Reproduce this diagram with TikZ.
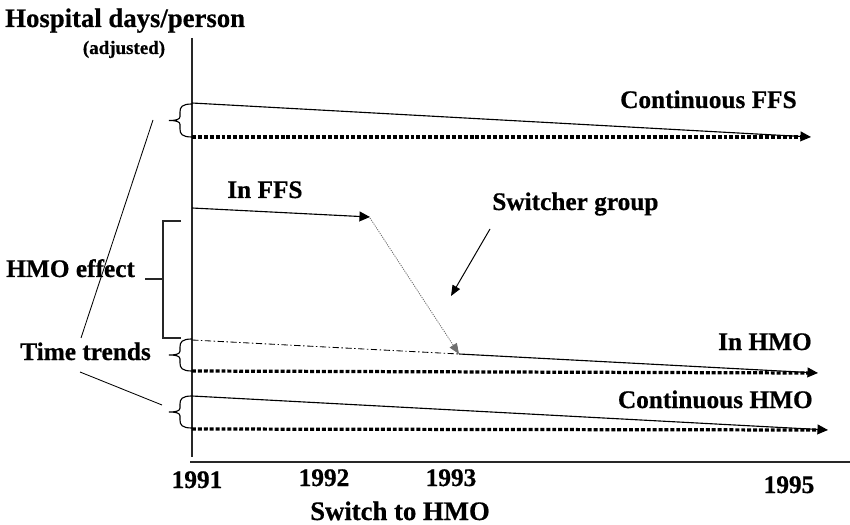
\documentclass[tikz,border=0pt]{standalone}
\usepackage{fontspec}
\setmainfont{Liberation Serif}[BoldFeatures={FakeBold=0.6}]
\usepackage{xcolor}
\definecolor{axisgray}{RGB}{40,40,40}
\definecolor{switchgray}{RGB}{110,110,110}
\usetikzlibrary{arrows.meta}

\tikzset{
  lbl/.style={font=\fontsize{18}{20}\selectfont\bfseries, inner sep=0pt},
  axisline/.style={line width=1pt, draw=axisgray},
  trendline/.style={line width=0.8pt, -{Triangle[length=7.5pt,width=7pt]}},
  dotline/.style={line width=2.3pt, dash pattern=on 2.8pt off 1.4pt},
  leader/.style={line width=0.6pt},
  bracestroke/.style={line width=0.8pt},
}

% curly brace on the left of the y axis, from y=#1 down to y=#2
\newcommand{\sidebrace}[2]{%
  \draw[bracestroke] (192,#1) .. controls (182,#1) and (180,{#1+3}) .. (180,{#1+8})
    -- (180,{(#1+#2)/2-4}) .. controls (180,{(#1+#2)/2-1}) and (176,{(#1+#2)/2}) .. (169,{(#1+#2)/2})
    .. controls (176,{(#1+#2)/2}) and (180,{(#1+#2)/2+1}) .. (180,{(#1+#2)/2+4})
    -- (180,{#2-8}) .. controls (180,{#2-3}) and (182,#2) .. (192,#2);}

\begin{document}
\begin{tikzpicture}[x=0.025cm, y=-0.025cm]
  \useasboundingbox (0,0) rectangle (850,525);

  % Axes
  \draw[axisline] (192,38) -- (192,457);
  \draw[axisline] (190,462) -- (850,462);
  \node[lbl, font=\fontsize{19}{21}\selectfont\bfseries, anchor=base west] (title) at (5,27) {Hospital days/person};
  \node[lbl, font=\fontsize{13.5}{15}\selectfont\bfseries, anchor=base] (adj) at (124,54) {(adjusted)};

  % Continuous FFS
  \draw[dotline] (192,137) -- (801,137);
  \draw[trendline] (192,103) -- (811,137);
  \node[lbl, anchor=base east] (cffs) at (797,108) {Continuous FFS};
  \sidebrace{104}{137}

  % Switcher group
  \node[lbl, anchor=base west] (inffs) at (227,198) {In FFS};
  \draw[trendline] (192,208) -- (370,217);
  \coordinate (swA) at (370,218);
  \coordinate (swB) at (459,354);
  \draw[line width=0.6pt, switchgray, dash pattern=on 0.8pt off 0.8pt, -{Triangle[length=7.5pt,width=6pt]}] (swA) -- (swB);
  \draw[line width=0.6pt, dash pattern=on 4.5pt off 1.8pt on 1pt off 1.8pt] (192,340) -- (swB);
  \draw[trendline] (swB) -- (818,373);
  \draw[dotline] (192,371) -- (808,373);
  \node[lbl, anchor=base east] (inhmo) at (812,350) {In HMO};
  \node[lbl, anchor=base west] (switcher) at (492,210) {Switcher group};
  \coordinate (swtail) at (490,229);
  \coordinate (swhead) at (451,296);
  \draw[line width=0.7pt, -{Triangle[length=7.5pt,width=6pt]}] (swtail) -- (swhead);
  \sidebrace{339}{371}

  % Continuous HMO
  \draw[dotline] (192,429) -- (818,430);
  \draw[trendline] (192,396) -- (828,430);
  \node[lbl, anchor=base east] (chmo) at (813,408) {Continuous HMO};
  \sidebrace{396}{428}

  % HMO effect
  \node[lbl, anchor=base west] (hmoeff) at (6,277) {HMO effect};
  \draw[bracestroke, black!85] (181,221) -- (163,221) -- (163,338) -- (181,338);
  \coordinate (efftick) at (163,279);
  \draw[bracestroke, black!85] ([xshift=0.25cm]hmoeff.east |- efftick) -- (efftick);

  % Time trends
  \node[lbl, anchor=base west] (trends) at (20,360) {Time trends};
  \coordinate (ttup) at (81,338);
  \coordinate (ttdown) at (80,372);
  \coordinate (brA) at (153,120);
  \coordinate (brC) at (162,405);
  \draw[leader] (ttup) -- (brA);
  \draw[leader] (ttdown) -- (brC);

  % Years
  \node[lbl, anchor=base] (y1991) at (197,488) {1991};
  \node[lbl, anchor=base] (y1992) at (324,486) {1992};
  \node[lbl, anchor=base] (y1993) at (451,486) {1993};
  \node[lbl, anchor=base] (y1995) at (789,493) {1995};
  \node[lbl, font=\fontsize{19}{21}\selectfont\bfseries, anchor=base] (swlbl) at (400,520) {Switch to HMO};
\end{tikzpicture}
\end{document}
